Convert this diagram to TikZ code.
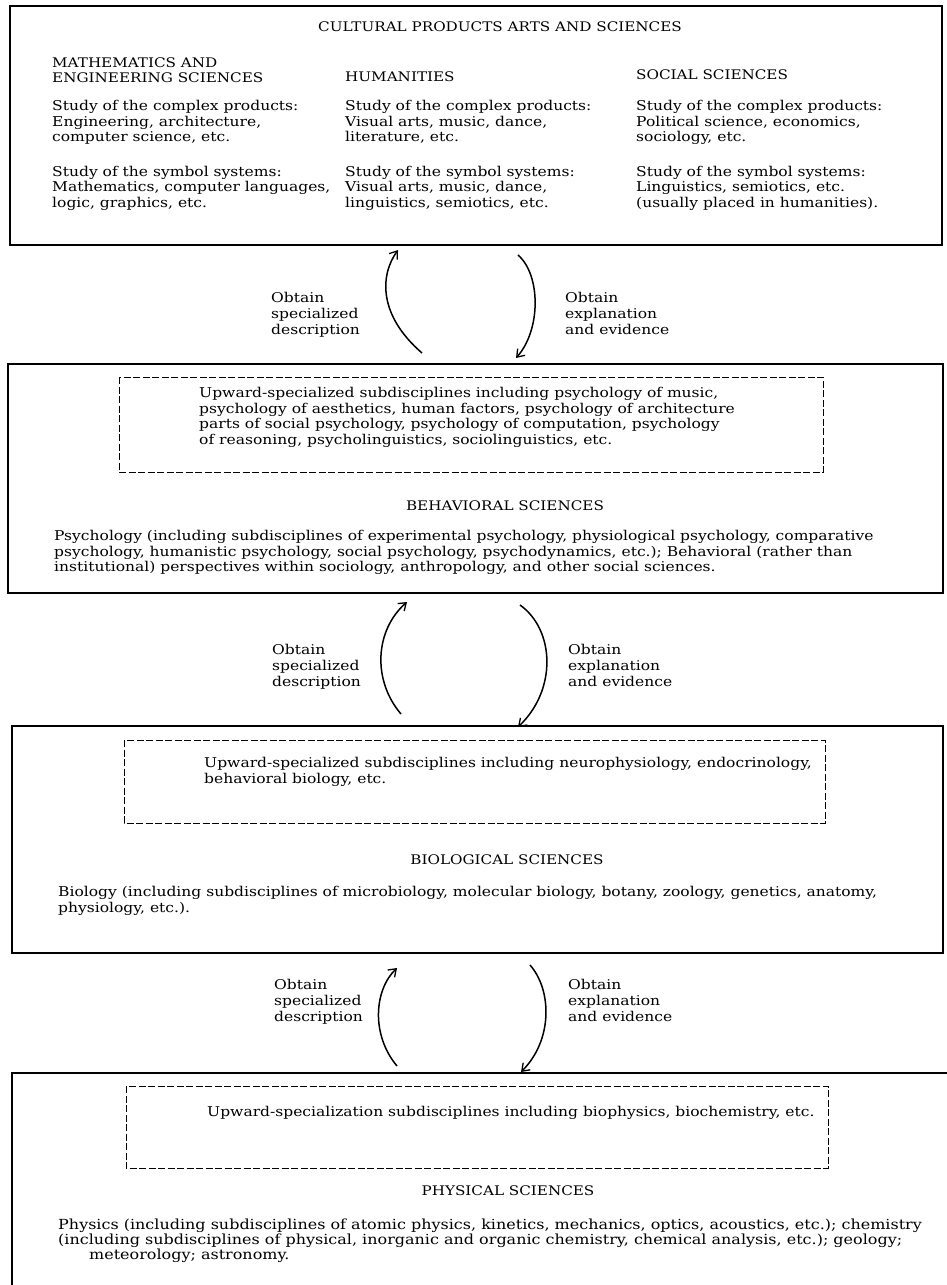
\documentclass[tikz,border=0pt]{standalone}
\usepackage{fontspec}
\setmainfont{DejaVu Serif}[FakeStretch=1.15]
\usetikzlibrary{arrows.meta}
\begin{document}
\begin{tikzpicture}[x=1pt,y=-1pt,
  bigbox/.style={draw, line width=1.7pt},
  dashbox/.style={draw, line width=0.9pt, dash pattern=on 7pt off 2.5pt},
  txt/.style={anchor=north west, inner sep=0pt, align=left, font=\fontsize{13.5}{15.5}\selectfont},
  lbl/.style={anchor=north west, inner sep=0pt, align=left, font=\fontsize{13.5}{16}\selectfont},
  head/.style={inner sep=0pt, align=left, font=\fontsize{13.2}{15.5}\selectfont},
  flow/.style={line width=1.5pt, -{Straight Barb[length=7pt,width=10pt,line width=1.3pt]}}]
\useasboundingbox (0,0) rectangle (947,1285);
\fill[white] (0,0) rectangle (947,1285);

% ---------- box 1
\draw[bigbox] (10,6) rectangle (942,245);
\node[head] (t1) at (500,27) {CULTURAL PRODUCTS ARTS AND SCIENCES};
\node[head, anchor=north west] (c1h) at (52,57.2) {MATHEMATICS AND\\ENGINEERING SCIENCES};
\node[head, anchor=west] (c2h) at (345,77) {HUMANITIES};
\node[head, anchor=west] (c3h) at (636,75) {SOCIAL SCIENCES};
\node[txt] (c1a) at (52,100.2) {Study of the complex products:\\Engineering, architecture,\\computer science, etc.};
\node[txt] (c2a) at (345,100.2) {Study of the complex products:\\Visual arts, music, dance,\\literature, etc.};
\node[txt] (c3a) at (636,100.2) {Study of the complex products:\\Political science, economics,\\sociology, etc.};
\node[txt] (c1b) at (52,165.7) {Study of the symbol systems:\\Mathematics, computer languages,\\logic, graphics, etc.};
\node[txt] (c2b) at (345,165.7) {Study of the symbol systems:\\Visual arts, music, dance,\\linguistics, semiotics, etc.};
\node[txt] (c3b) at (636,165.7) {Study of the symbol systems:\\Linguistics, semiotics, etc.\\(usually placed in humanities).};

% ---------- arrows 1-2
\coordinate (a1s) at (422,353); \coordinate (a1e) at (398,250);
\coordinate (b1s) at (518,255); \coordinate (b1e) at (516,358);
\draw[flow] (a1s) .. controls (378,315) and (380,275) .. (a1e);
\draw[flow] (b1s) .. controls (541,275) and (541,330) .. (b1e);
\node[lbl] (l1) at (271,292.2) {Obtain\\specialized\\description};
\node[lbl] (r1) at (565,292.2) {Obtain\\explanation\\and evidence};

% ---------- box 2
\draw[bigbox] (8,364) rectangle (943,593);
\draw[dashbox] (119,377) rectangle (823,472);
\node[txt] (d2t) at (199,387.2) {Upward-specialized subdisciplines including psychology of music,\\psychology of aesthetics, human factors, psychology of architecture\\parts of social psychology, psychology of computation, psychology\\of reasoning, psycholinguistics, sociolinguistics, etc.};
\node[head] (t2) at (505,506) {BEHAVIORAL SCIENCES};
\node[txt] (p2) at (54,530.2) {Psychology (including subdisciplines of experimental psychology, physiological psychology, comparative\\psychology, humanistic psychology, social psychology, psychodynamics, etc.); Behavioral (rather than\\institutional) perspectives within sociology, anthropology, and other social sciences.};

% ---------- arrows 2-3
\coordinate (a2s) at (401,714); \coordinate (a2e) at (407,602);
\coordinate (b2s) at (520,605); \coordinate (b2e) at (518,727);
\draw[flow] (a2s) .. controls (372,680) and (375,630) .. (a2e);
\draw[flow] (b2s) .. controls (555,630) and (557,690) .. (b2e);
\node[lbl] (l2) at (272,644.2) {Obtain\\specialized\\description};
\node[lbl] (r2) at (568,644.2) {Obtain\\explanation\\and evidence};

% ---------- box 3
\draw[bigbox] (12,726) rectangle (943,953);
\draw[dashbox] (124,740) rectangle (825,823);
\node[lbl] (d3t) at (204,757.2) {Upward-specialized subdisciplines including neurophysiology, endocrinology,\\behavioral biology, etc.};
\node[head] (t3) at (507,860) {BIOLOGICAL SCIENCES};
\node[lbl] (p3) at (58,886.2) {Biology (including subdisciplines of microbiology, molecular biology, botany, zoology, genetics, anatomy,\\physiology, etc.).};

% ---------- arrows 3-4
\coordinate (a3s) at (397,1066); \coordinate (a3e) at (397,968);
\coordinate (b3s) at (530,965); \coordinate (b3e) at (521,1072);
\draw[flow] (a3s) .. controls (371,1035) and (374,990) .. (a3e);
\draw[flow] (b3s) .. controls (552,990) and (553,1040) .. (b3e);
\node[lbl] (l3) at (274,979.2) {Obtain\\specialized\\description};
\node[lbl] (r3) at (568,979.2) {Obtain\\explanation\\and evidence};

% ---------- box 4 (open at bottom and right)
\draw[bigbox] (947,1073) -- (12,1073) -- (12,1285);
\draw[dashbox] (126,1086) rectangle (828,1168);
\node[txt] (d4t) at (207,1106.2) {Upward-specialization subdisciplines including biophysics, biochemistry, etc.};
\node[head] (t4) at (508,1191) {PHYSICAL SCIENCES};
\node[txt, font=\fontsize{13.9}{15}\selectfont] (p4) at (58,1219) {Physics (including subdisciplines of atomic physics, kinetics, mechanics, optics, acoustics, etc.); chemistry\\(including subdisciplines of physical, inorganic and organic chemistry, chemical analysis, etc.); geology;\\\hspace*{31pt}meteorology; astronomy.};
\end{tikzpicture}
\end{document}
